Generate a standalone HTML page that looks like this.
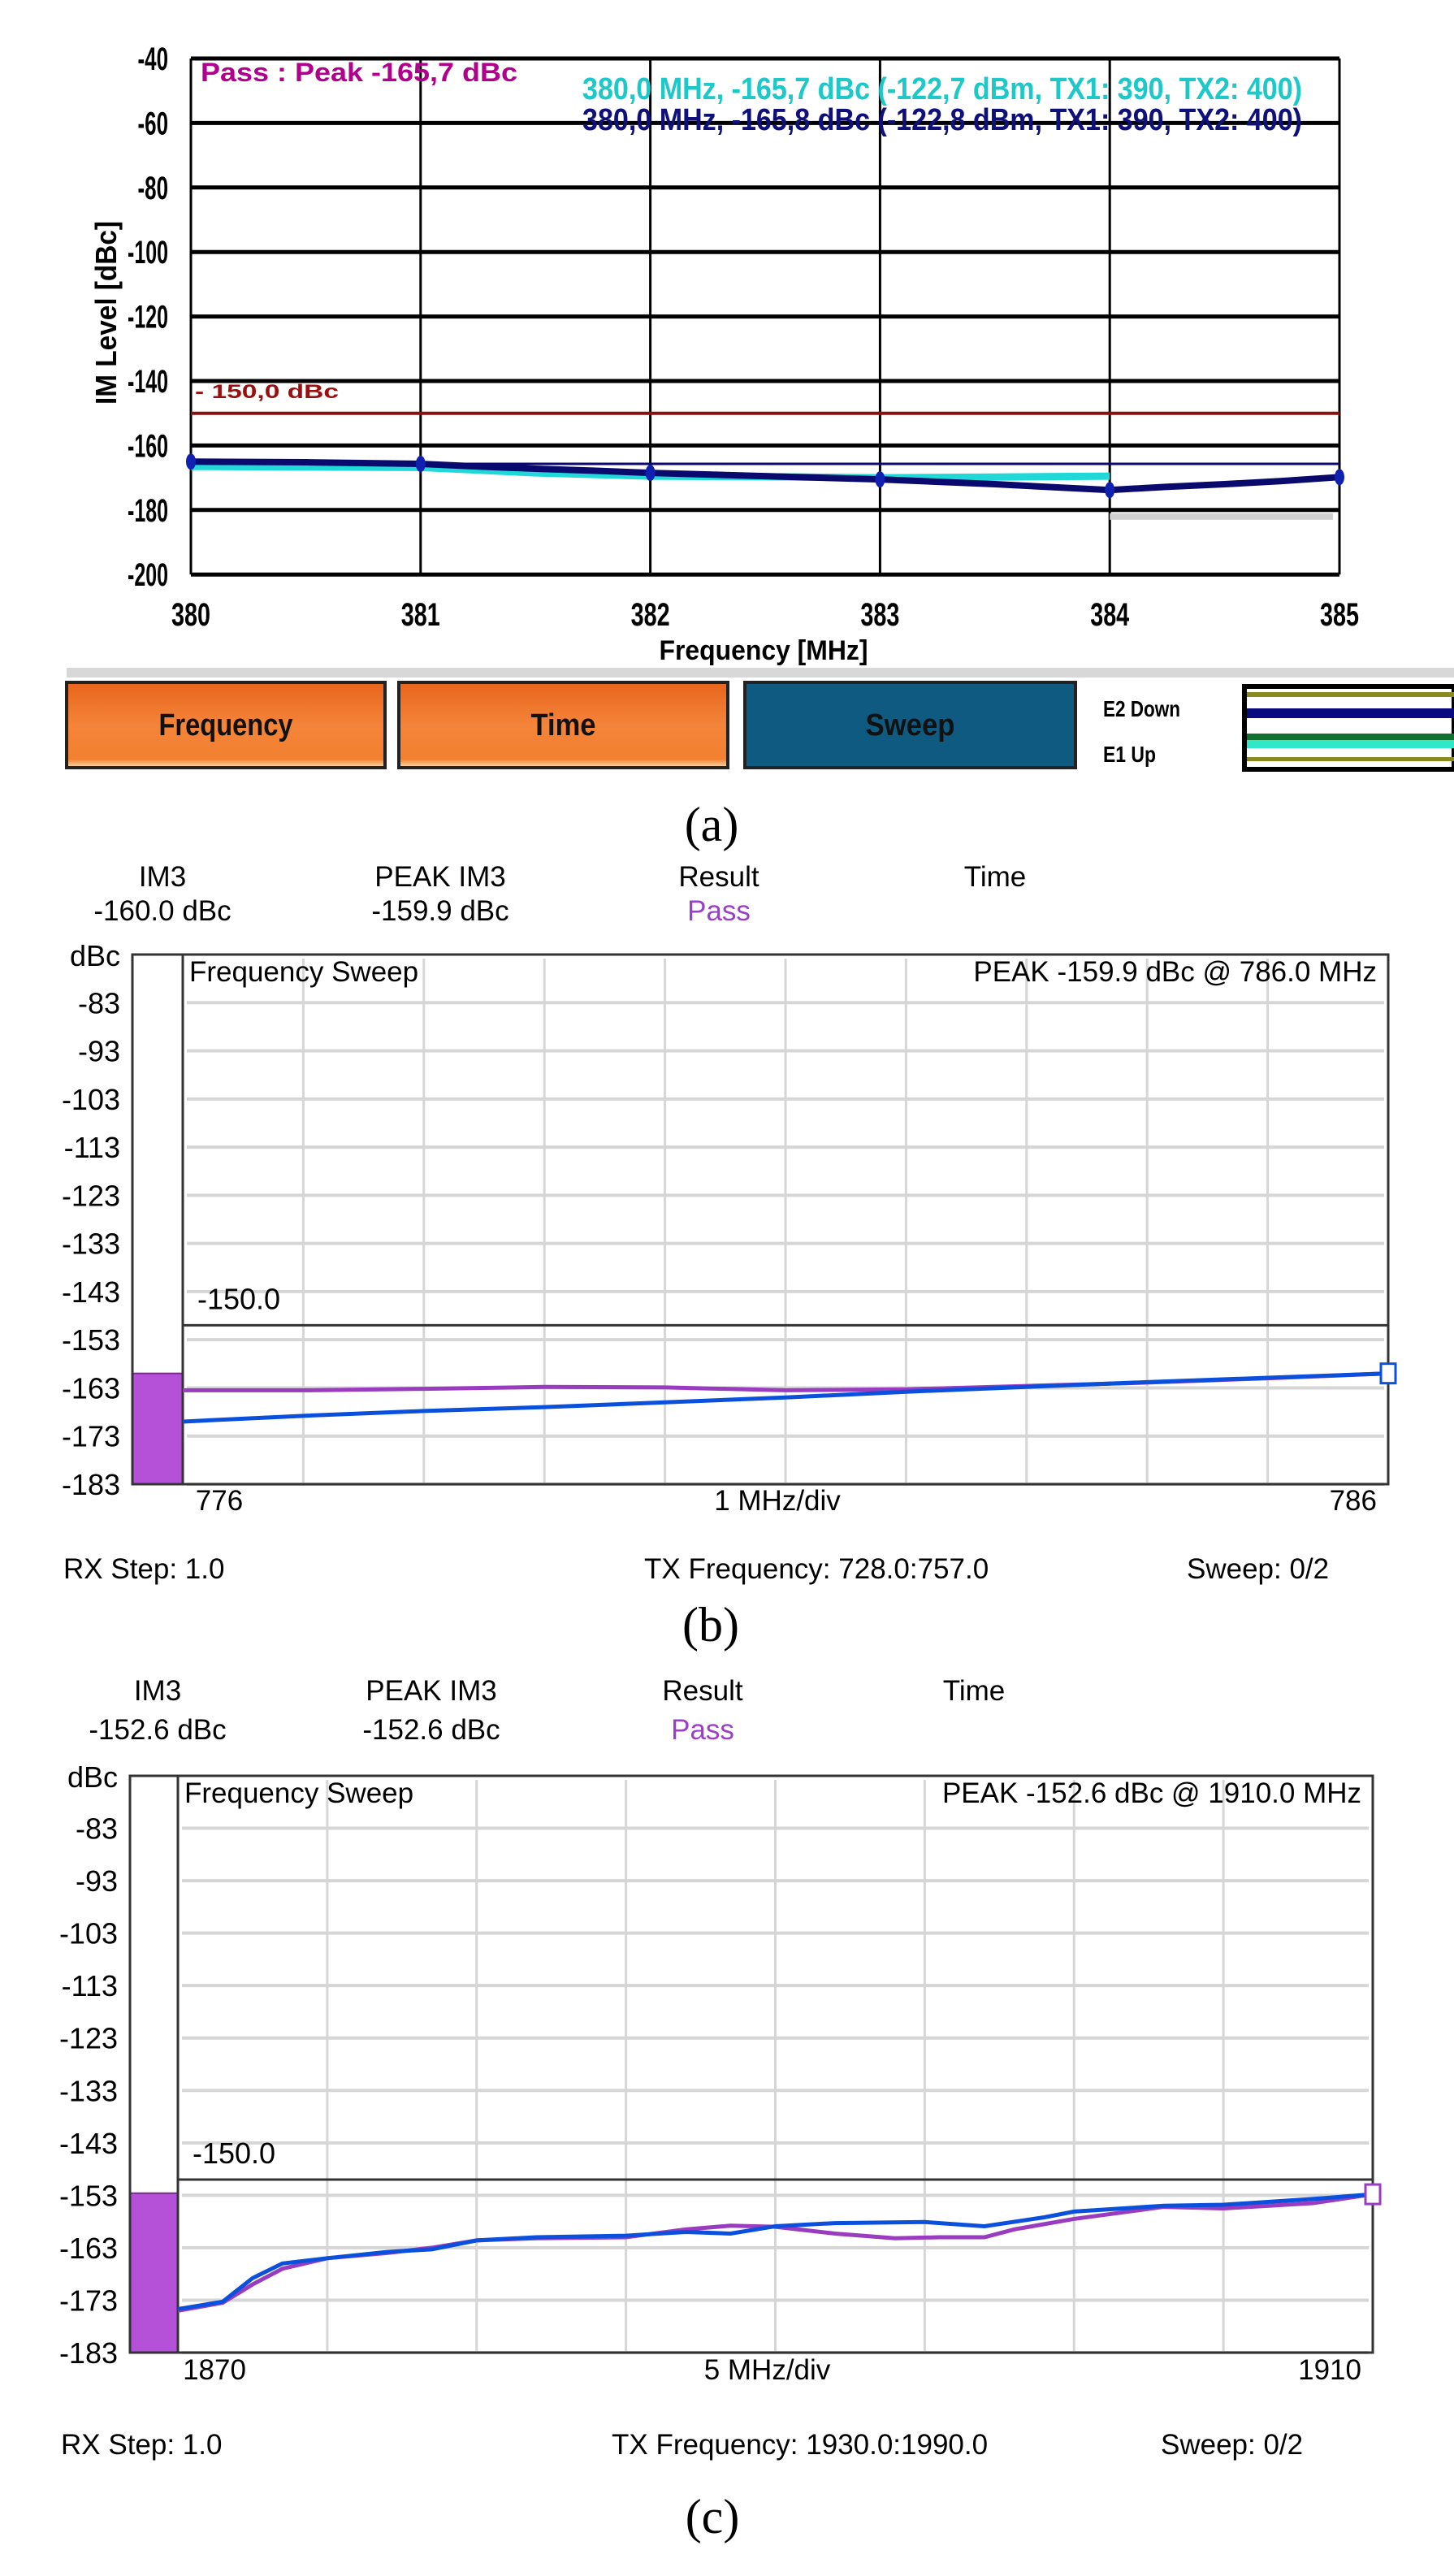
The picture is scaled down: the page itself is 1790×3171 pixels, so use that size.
<!DOCTYPE html>
<html><head><meta charset="utf-8"><style>
html,body{margin:0;padding:0;background:#fff}
svg{display:block}
.n{font-family:"Liberation Sans Narrow","Liberation Sans",sans-serif;font-weight:bold}
.r{font-family:"Liberation Sans",sans-serif}
.s{font-family:"Liberation Serif",serif}
</style></head><body>
<svg id="fig" width="1790" height="3171" viewBox="0 0 1790 3171" xmlns="http://www.w3.org/2000/svg">
<rect width="1790" height="3171" fill="#fff"/>
<g id="pa"></g>
<g id="pb"></g>
<g id="pc"></g>
</svg>
<script>
// ---------- Panel (a) data ----------
const aTicksY = [-40,-60,-80,-100,-120,-140,-160,-180,-200];
const aTicksX = [380,381,382,383,384,385];
const aNavyF = [380,380.5,381,381.25,381.5,381.75,382,382.5,383,383.5,384,384.25,384.5,384.75,385];
const aNavyV = [-165,-165.2,-165.7,-166.5,-167.2,-167.8,-168.5,-169.5,-170.5,-172,-173.8,-172.8,-172,-171,-169.8];
const aCyanF = [380,381,381.5,382,382.5,383,383.5,384];
const aCyanV = [-166.5,-166.8,-168.5,-169.5,-169.7,-170,-169.8,-169.5];
const aMarkF = [380,381,382,383,384,385];
const aLimit = -150;
const aPeak = -165.7;
// ---------- Panel (b) data ----------
const bTicksY = [-83,-93,-103,-113,-123,-133,-143,-153,-163,-173,-183];
const bF = [776,777,778,779,780,781,782,783,784,785,786];
const bPurple = [-163.5,-163.5,-163.2,-162.8,-162.9,-163.5,-163.3,-162.6,-161.9,-161.0,-160.0];
const bBlue = [-170,-168.8,-167.8,-167.0,-166.0,-165.0,-163.8,-162.8,-161.8,-160.9,-160.0];
const bBarV = -160;
const bLimit = -150;
// ---------- Panel (c) data ----------
const cTicksY = [-83,-93,-103,-113,-123,-133,-143,-153,-163,-173,-183];
const cBlueF = [1870,1871.5,1872.5,1873.5,1875,1877,1878.5,1880,1882,1885,1887,1888.5,1890,1892,1895,1897,1899,1900,1903,1905,1908,1910];
const cBlueV = [-174.7,-173.3,-168.8,-166,-165,-163.8,-163.3,-161.6,-161,-160.7,-160,-160.3,-158.9,-158.3,-158.1,-158.9,-157.2,-156.1,-155,-154.8,-153.7,-152.8];
const cPurpF = [1870,1871.5,1872.5,1873.5,1875,1877,1878.5,1880,1882,1885,1887,1888.5,1890,1892,1894,1895.5,1897,1898,1900,1903,1905,1908,1910];
const cPurpV = [-175,-173.5,-170,-167,-165,-164,-163,-161.6,-161.2,-161,-159.5,-158.8,-159,-160.3,-161.2,-161,-161,-159.5,-157.5,-155.2,-155.5,-154.5,-152.8];
const cBarV = -152.6;
const cLimit = -150;

const NS="http://www.w3.org/2000/svg";
function el(p,tag,at,txt){const e=document.createElementNS(NS,tag);for(const k in at)e.setAttribute(k,at[k]);if(txt!==undefined)e.textContent=txt;p.appendChild(e);return e;}

// ===== Panel A =====
(function(){
const g=document.getElementById('pa');
const xa=f=>235+(f-380)*282.8, ya=v=>72+(-40-v)*3.97;
const SG='spacingAndGlyphs';
aTicksY.forEach(v=>{
 const l=el(g,'line',{x1:235,x2:1649,y1:ya(v),y2:ya(v),stroke:'#000','stroke-width':5});
 
 
 const s=String(v);
 const t=el(g,'text',{x:207,y:ya(v)+14,'text-anchor':'end','font-size':40,class:'n',textLength:s.length*12.5,lengthAdjust:SG},s);
 
 
});
aTicksX.forEach(f=>{
 const l=el(g,'line',{x1:xa(f),x2:xa(f),y1:ya(-40),y2:ya(-200),stroke:'#000','stroke-width':3});
 
 
 const t=el(g,'text',{x:xa(f),y:770,'text-anchor':'middle','font-size':40,class:'n',textLength:48,lengthAdjust:SG},String(f));
 
 
});
const yt=el(g,'text',{x:0,y:0,transform:'translate(143,385) rotate(-90)','text-anchor':'middle','font-size':36,class:'n',textLength:226,lengthAdjust:SG},'IM Level [dBc]');


const xt=el(g,'text',{x:940,y:812,'text-anchor':'middle','font-size':34,class:'n',textLength:257,lengthAdjust:SG},'Frequency [MHz]');


const lim=el(g,'line',{x1:235,x2:1649,y1:ya(aLimit),y2:ya(aLimit),stroke:'#8a1010','stroke-width':4});


const lt=el(g,'text',{x:240,y:490,'font-size':24,class:'n',fill:'#9a1010',textLength:177,lengthAdjust:SG},'- 150,0 dBc');


const pk=el(g,'line',{x1:235,x2:1649,y1:ya(aPeak),y2:ya(aPeak),stroke:'#0a0a70','stroke-width':3});


const gs=el(g,'rect',{x:xa(384),y:ya(-180)+4,width:xa(385)-xa(384)-8,height:8,fill:'#d0d0d0'});


const cy=el(g,'polyline',{points:aCyanF.map((f,i)=>xa(f)+','+ya(aCyanV[i])).join(' '),fill:'none',stroke:'#20d8d8','stroke-width':9});


const nv=el(g,'polyline',{points:aNavyF.map((f,i)=>xa(f)+','+ya(aNavyV[i])).join(' '),fill:'none',stroke:'#0a0a6e','stroke-width':8});


aMarkF.forEach(f=>{const i=aNavyF.indexOf(f);
 const m=el(g,'ellipse',{cx:xa(f),cy:ya(aNavyV[i]),rx:6,ry:10,fill:'#1020b0'});
 
 
});
const pt=el(g,'text',{x:247,y:100,'font-size':32,class:'n',fill:'#b0008c',textLength:390,lengthAdjust:SG},'Pass : Peak -165,7 dBc');


const c1=el(g,'text',{x:717,y:122,'font-size':38,class:'n',fill:'#1cc8c8',textLength:886,lengthAdjust:SG},'380,0 MHz, -165,7 dBc (-122,7 dBm, TX1: 390, TX2: 400)');


const c2=el(g,'text',{x:717,y:160,'font-size':38,class:'n',fill:'#10107a',textLength:886,lengthAdjust:SG},'380,0 MHz, -165,8 dBc (-122,8 dBm, TX1: 390, TX2: 400)');


// button bar
el(g,'rect',{x:82,y:822,width:1708,height:12,fill:'#d8d8d8'});
const defs=el(g,'defs',{});
const gr=el(defs,'linearGradient',{id:'og',x1:0,y1:0,x2:0,y2:1});
el(gr,'stop',{offset:0,'stop-color':'#e8641c'});el(gr,'stop',{offset:0.5,'stop-color':'#f4843a'});el(gr,'stop',{offset:0.9,'stop-color':'#f28030'});el(gr,'stop',{offset:1,'stop-color':'#f6e0b0'});
[['Frequency',82,474,'url(#og)','frequency-button',165],['Time',491,896,'url(#og)','time-button',80],['Sweep',917,1324,'#0e5a80','sweep-button',110]].forEach(b=>{
 const bg=el(g,'g',{});
 
 
 el(bg,'rect',{x:b[1],y:840,width:b[2]-b[1],height:105,fill:b[3],stroke:'#222','stroke-width':4});
 el(bg,'text',{x:(b[1]+b[2])/2,y:905,'text-anchor':'middle','font-size':38,class:'n',fill:'#111',textLength:b[5],lengthAdjust:SG},b[0]);
});
const e2=el(g,'text',{x:1358,y:882,'font-size':28,class:'n',textLength:95,lengthAdjust:SG},'E2 Down');


const e1=el(g,'text',{x:1358,y:938,'font-size':28,class:'n',textLength:65,lengthAdjust:SG},'E1 Up');


const lg=el(g,'g',{});


el(lg,'rect',{x:1532,y:845,width:258,height:102,fill:'#fff',stroke:'#000','stroke-width':6});
el(lg,'rect',{x:1535,y:852,width:255,height:6,fill:'#8a8a20'});
el(lg,'rect',{x:1535,y:872,width:255,height:12,fill:'#0a0a80'});
el(lg,'rect',{x:1535,y:903,width:255,height:8,fill:'#107030'});
el(lg,'rect',{x:1535,y:911,width:255,height:10,fill:'#30e8c8'});
el(lg,'rect',{x:1535,y:932,width:255,height:5,fill:'#8a8a20'});
const la=el(g,'text',{x:876,y:1035,'text-anchor':'middle','font-size':60,class:'s'},'(a)');


})();

// ===== Panels B and C =====
function analyzer(gid,p){
 const g=document.getElementById(gid);
 const X=f=>p.L+(f-p.f0)*(p.R-p.L)/(p.f1-p.f0);
 const Y=v=>p.T+(-73-v)*(p.B-p.T)/110;
 p.cols.forEach((c,i)=>{
  const t=el(g,'text',{x:c,y:p.h1,'text-anchor':'middle','font-size':35,class:'r'},['IM3','PEAK IM3','Result','Time'][i]);
  
  
 });
 [p.im3,p.peak,'Pass'].forEach((s,i)=>{
  const t=el(g,'text',{x:p.cols[i],y:p.h2,'text-anchor':'middle','font-size':35,class:'r',fill:i==2?'#9a40c8':'#000'},s);
  
  
 });
 p.ticks.forEach(v=>{
  const l=el(g,'line',{x1:p.L+5,x2:p.R-5,y1:Y(v),y2:Y(v),stroke:'#d6d6d6','stroke-width':4});
  
  
  const t=el(g,'text',{x:p.BL-15,y:Y(v)+13,'text-anchor':'end','font-size':36,class:'r'},String(v));
  
  
 });
 for(let k=1;k<p.nd;k++){
  const f=p.f0+k*(p.f1-p.f0)/p.nd;
  const l=el(g,'line',{x1:X(f),x2:X(f),y1:p.T+5,y2:p.B,stroke:'#d6d6d6','stroke-width':3});
  
  
 }
 const db=el(g,'text',{x:p.BL-15,y:p.T+14,'text-anchor':'end','font-size':36,class:'r'},'dBc');
 
 
 const bar=el(g,'rect',{x:p.BL,y:Y(p.barV),width:p.L-p.BL,height:p.B-Y(p.barV),fill:'#b550d8',stroke:'#7a2a90','stroke-width':2});
 
 
 el(g,'rect',{x:p.BL,y:p.T,width:p.L-p.BL,height:p.B-p.T,fill:'none',stroke:'#333','stroke-width':3});
 const fr=el(g,'rect',{x:p.L,y:p.T,width:p.R-p.L,height:p.B-p.T,fill:'none',stroke:'#333','stroke-width':3});
 
 
 const lim=el(g,'line',{x1:p.L,x2:p.R,y1:Y(p.limit),y2:Y(p.limit),stroke:'#333','stroke-width':3});
 
 
 const lt=el(g,'text',{x:p.L+18,y:Y(p.limit)-20,'font-size':36,class:'r'},p.limit.toFixed(1));
 
 
 const fs=el(g,'text',{x:p.L+8,y:p.T+33,'font-size':35,class:'r'},'Frequency Sweep');
 
 
 const pk=el(g,'text',{x:p.R-14,y:p.T+33,'text-anchor':'end','font-size':35,class:'r'},p.peakText);
 
 
 const pu=el(g,'polyline',{points:p.pf.map((f,i)=>X(f)+','+Y(p.pv[i])).join(' '),fill:'none',stroke:'#9a3cc0','stroke-width':5});
 
 
 const bl=el(g,'polyline',{points:p.bf.map((f,i)=>X(f)+','+Y(p.bv[i])).join(' '),fill:'none',stroke:'#0a50dc','stroke-width':5});
 
 
 const lastB=p.bv[p.bv.length-1];
 const mk=el(g,'rect',{x:p.R-9,y:Y(lastB)-12,width:18,height:24,fill:'#fff',stroke:p.mk,'stroke-width':3});
 
 
 const a=el(g,'text',{x:p.L+45,y:p.xl,'text-anchor':'middle','font-size':35,class:'r'},String(p.f0));
 
 
 const m=el(g,'text',{x:(p.L+p.R)/2-10,y:p.xl,'text-anchor':'middle','font-size':35,class:'r'},p.div);
 
 
 const b=el(g,'text',{x:p.R-14,y:p.xl,'text-anchor':'end','font-size':35,class:'r'},String(p.f1));
 
 
 const rx=el(g,'text',{x:p.rx,y:p.fl,'font-size':35,class:'r'},'RX Step: 1.0');
 
 
 const tx=el(g,'text',{x:p.tx,y:p.fl,'font-size':35,class:'r'},p.txText);
 
 
 const sw=el(g,'text',{x:p.sw,y:p.fl,'font-size':35,class:'r'},'Sweep: 0/2');
 
 
 const cap=el(g,'text',{x:p.capX,y:p.capY,'text-anchor':'middle','font-size':60,class:'s'},p.cap);
 
 
}
analyzer('pb',{L:225,R:1709,T:1175,B:1827,BL:163,f0:776,f1:786,nd:10,cols:[200,542,885,1225],h1:1091,h2:1133,
 im3:'-160.0 dBc',peak:'-159.9 dBc',ticks:bTicksY,barV:bBarV,limit:bLimit,peakText:'PEAK -159.9 dBc @ 786.0 MHz',
 pf:bF,pv:bPurple,bf:bF,bv:bBlue,mk:'#0a50dc',div:'1 MHz/div',xl:1859,rx:78,tx:793,sw:1461,fl:1943,txText:'TX Frequency: 728.0:757.0',cap:'(b)',capX:875,capY:2020});
analyzer('pc',{L:219,R:1690,T:2186,B:2896,BL:160,f0:1870,f1:1910,nd:8,cols:[194,531,865,1199],h1:2093,h2:2141,
 im3:'-152.6 dBc',peak:'-152.6 dBc',ticks:cTicksY,barV:cBarV,limit:cLimit,peakText:'PEAK -152.6 dBc @ 1910.0 MHz',
 pf:cPurpF,pv:cPurpV,bf:cBlueF,bv:cBlueV,mk:'#9a3cc0',div:'5 MHz/div',xl:2929,rx:75,tx:753,sw:1429,fl:3021,txText:'TX Frequency: 1930.0:1990.0',cap:'(c)',capX:877,capY:3118});
</script>
</body></html>
